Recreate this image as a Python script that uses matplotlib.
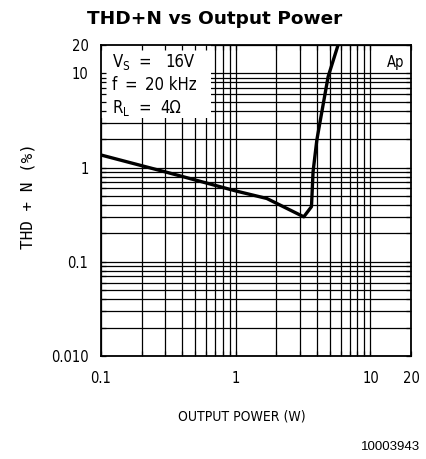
import matplotlib
matplotlib.use("Agg")
import matplotlib.pyplot as plt
from matplotlib.patches import Rectangle
from matplotlib.ticker import LogLocator, NullFormatter, FixedLocator, FixedFormatter
from matplotlib import font_manager

# ---- data ----
power_w = [0.1, 0.3, 1.0, 1.7, 3.2, 3.65, 3.75, 4.0, 4.25, 4.85, 5.75]
thd_pct = [1.36, 0.90, 0.565, 0.47, 0.30, 0.385, 0.90, 1.96, 3.2, 9.2, 20.0]
x_ticks = [0.1, 1, 10, 20]
x_tick_labels = ["0.1", "1", "10", "20"]
y_ticks = [0.01, 0.1, 1, 10, 20]
y_tick_labels = ["0.010", "0.1", "1", "10", "20"]

W, H = 427, 459
fig = plt.figure(figsize=(W / 100, H / 100), dpi=100)

names = {f.name for f in font_manager.fontManager.ttflist}
if "Liberation Sans Narrow" in names:
    lab_font = dict(family="Liberation Sans Narrow")
else:
    lab_font = dict(family="DejaVu Sans", stretch="condensed")
mono = dict(family="DejaVu Sans Mono")

def fx(px):
    return px / W

def fy(py):
    return 1 - py / H

L, R, T, B = 101, 411, 45, 356
pos = [fx(L), fy(B), (R - L) / W, (B - T) / H]
ax = fig.add_axes(pos)
ax.set_xscale("log")
ax.set_yscale("log")
ax.set_xlim(0.1, 20)
ax.set_ylim(0.01, 20)
ax.xaxis.set_major_locator(FixedLocator(x_ticks))
ax.xaxis.set_major_formatter(FixedFormatter(x_tick_labels))
ax.yaxis.set_major_locator(FixedLocator(y_ticks))
ax.yaxis.set_major_formatter(FixedFormatter(y_tick_labels))
ax.xaxis.set_minor_locator(LogLocator(base=10, subs=range(2, 10)))
ax.yaxis.set_minor_locator(LogLocator(base=10, subs=range(2, 10)))
ax.xaxis.set_minor_formatter(NullFormatter())
ax.yaxis.set_minor_formatter(NullFormatter())
ax.grid(which="both", color="black", lw=0.9)
ax.set_axisbelow(True)
ax.tick_params(which="both", length=0)
ax.tick_params(axis="x", pad=11)
ax.tick_params(axis="y", pad=9)
for lbl in ax.get_xticklabels() + ax.get_yticklabels():
    lbl.set_fontsize(10.5)
    lbl.set(**lab_font)
for s in ax.spines.values():
    s.set_visible(False)

ax.add_patch(Rectangle((0, 0.765), 0.355, 0.24, transform=ax.transAxes,
                       facecolor="white", edgecolor="none", zorder=1))
ax.plot(power_w, thd_pct, color="black", lw=2.4, zorder=3, solid_joinstyle="round")

# overlay axes for inward ticks and frame
ax2 = fig.add_axes(pos, sharex=ax, sharey=ax)
ax2.patch.set_visible(False)
ax2.tick_params(which="both", direction="in", top=True, right=True,
                labelbottom=False, labelleft=False, length=3.5, width=0.9)
for s in ax2.spines.values():
    s.set_linewidth(1.3)
ax2.set_zorder(ax.get_zorder() + 1)

ax.set_xlabel("OUTPUT POWER (W)", fontsize=10, **lab_font)
ax.xaxis.set_label_coords(0.455, -0.172)
ax.set_ylabel("THD + N (%)", fontsize=11.5, **mono)
ax.yaxis.set_label_coords((36 - L) / (R - L), 0.515)

fig.text(0.502, fy(18.5), "THD+N vs Output Power", ha="center", va="center",
         fontsize=13.3, fontweight="bold", family="DejaVu Sans")

# annotation box text
tk = dict(fontsize=12, va="center", **lab_font)
fig.text(fx(112), fy(62), r"V$_\mathregular{S}$", ha="left", **tk)
fig.text(fx(145), fy(62), "=", ha="center", **tk)
fig.text(fx(165), fy(62), "16V", ha="left", **tk)
fig.text(fx(112), fy(85), "f", ha="left", **tk)
fig.text(fx(131), fy(85), "=", ha="center", **tk)
fig.text(fx(145), fy(85), "20 kHz", ha="left", **tk)
fig.text(fx(112), fy(108), r"R$_\mathregular{L}$", ha="left", **tk)
fig.text(fx(145), fy(108), "=", ha="center", **tk)
fig.text(fx(160), fy(108), "4\u03a9", ha="left", **tk)

fig.text(fx(404), fy(62), "Ap", ha="right", va="center", fontsize=10.5, **lab_font)
fig.text(fx(420), fy(447), "10003943", ha="right", va="center", fontsize=9.5,
         family="Liberation Sans")

fig.savefig("out.png", dpi=100)
